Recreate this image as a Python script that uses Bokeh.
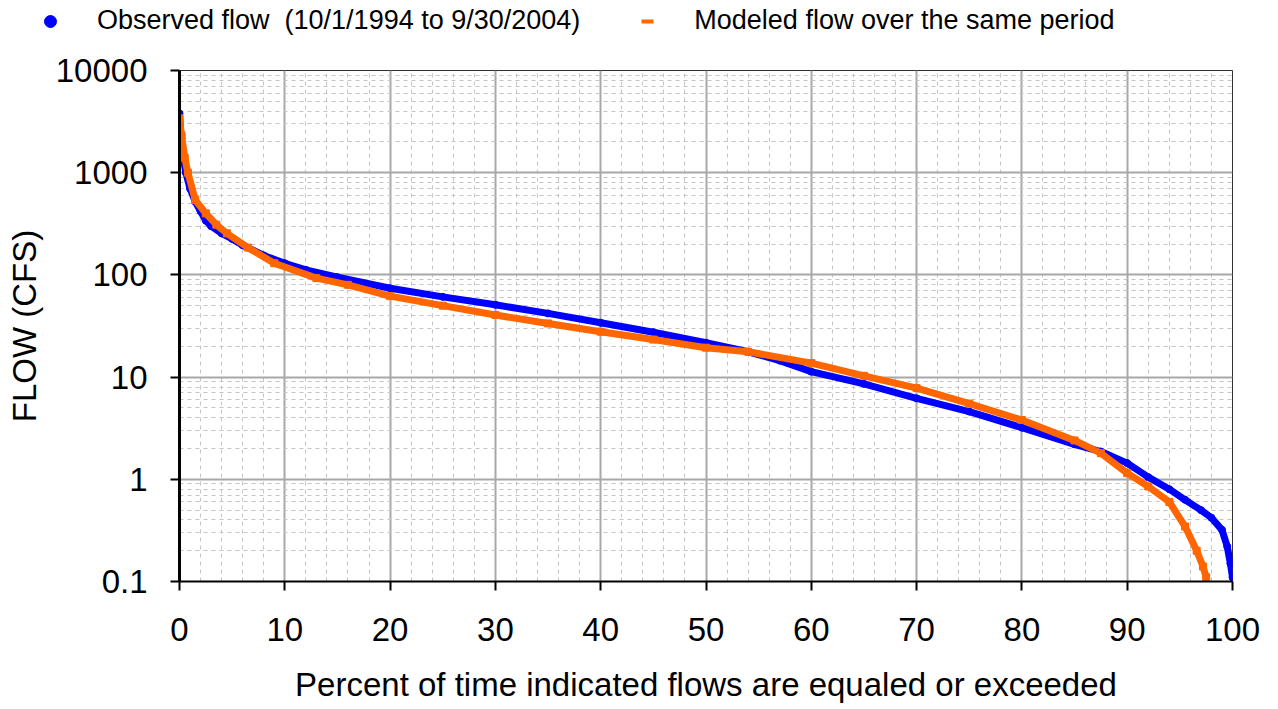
from bokeh.plotting import figure
from bokeh.layouts import column
from bokeh.models import Range1d, FixedTicker, NumeralTickFormatter, Legend, LegendItem, ColumnDataSource
from bokeh.embed import file_html
from bokeh.resources import INLINE

# ---- data ----
obs_pct = [0, 0.1, 0.3, 0.6, 1.0, 1.5, 2.0, 2.5, 3.0, 4.0, 5.0, 6.0, 8.0, 10, 12, 15, 20, 25, 30,
           35, 40, 45, 50, 54, 57, 60, 65, 70, 75, 80, 85, 87.5, 90, 92, 94, 95.5, 97, 98, 99,
           99.5, 99.8, 100]
obs_flow = [3800, 2500, 1500, 1000, 700, 520, 420, 340, 300, 255, 225, 195, 155, 130, 112, 95, 74,
            61, 51, 42, 34, 27.5, 21.7, 17.7, 14.5, 11.3, 8.6, 6.2, 4.6, 3.2, 2.2, 1.87, 1.44,
            1.05, 0.8, 0.63, 0.5, 0.42, 0.32, 0.22, 0.15, 0.11]

mod_pct = [0, 0.2, 0.5, 0.8, 1.5, 2.5, 3.5, 4.5, 6.5, 9, 13, 16, 20, 25, 30, 35, 40, 45, 50, 54,
           60, 65, 70, 75, 80, 85, 87.5, 90, 92, 94, 95.5, 96.6, 97.2, 97.5]
mod_flow = [3400, 2300, 1400, 1000, 540, 400, 310, 255, 185, 130, 93, 80, 62, 50, 40.5, 33.5, 27.8,
            23.3, 19.4, 17.7, 13.7, 10.3, 7.8, 5.5, 3.8, 2.4, 1.8, 1.15, 0.85, 0.6, 0.345, 0.2,
            0.14, 0.11]

x_ticks = [0, 10, 20, 30, 40, 50, 60, 70, 80, 90, 100]
x_minor = [0, 2, 4, 6, 8, 10, 12, 14, 16, 18, 20, 22, 24, 26, 28, 30, 32, 34, 36, 38, 40, 42, 44,
           46, 48, 50, 52, 54, 56, 58, 60, 62, 64, 66, 68, 70, 72, 74, 76, 78, 80, 82, 84, 86, 88,
           90, 92, 94, 96, 98, 100]
y_ticks = [0.1, 1, 10, 100, 1000, 10000]
y_minor = [m * d for d in [0.1, 1, 10, 100, 1000] for m in range(1, 10)] + [10000]

obs_label = "Observed flow  (10/1/1994 to 9/30/2004)"
mod_label = "Modeled flow over the same period"
x_title = "Percent of time indicated flows are equaled or exceeded"
y_title = "FLOW (CFS)"

FONT = "Liberation Sans"
BLUE = "#0000ff"
ORANGE = "#ff6600"

W = 1276
LEG_H = 40

# ---------- main chart ----------
p = figure(width=W, height=705 - LEG_H, x_range=Range1d(0, 100), y_range=Range1d(0.1, 10000),
           y_axis_type="log", output_backend="svg", toolbar_location=None, title=None,
           min_border_left=179, min_border_right=44, min_border_top=70 - LEG_H, min_border_bottom=124)
p.background_fill_color = "white"
p.border_fill_color = "white"
p.outline_line_color = "#303030"
p.outline_line_width = 1

p.xaxis.ticker = FixedTicker(ticks=x_ticks, minor_ticks=x_minor)
p.yaxis.ticker = FixedTicker(ticks=y_ticks, minor_ticks=y_minor)
p.yaxis.formatter = NumeralTickFormatter(format="0.[0]")
for ax in (p.xaxis, p.yaxis):
    ax.major_label_text_font = FONT
    ax.major_label_text_font_size = "33px"
    ax.major_label_text_color = "black"
    ax.axis_label_text_font = FONT
    ax.axis_label_text_font_size = "33px"
    ax.axis_label_text_font_style = "normal"
    ax.axis_label_text_color = "black"
    ax.axis_line_color = "black"
    ax.major_tick_line_color = "black"
    ax.major_tick_line_width = 2
    ax.major_tick_in = 0
    ax.major_tick_out = 9
    ax.minor_tick_line_color = None
p.yaxis.axis_line_width = 3
p.xaxis.axis_line_width = 2
p.xaxis.axis_label = x_title
p.yaxis.axis_label = y_title
p.xaxis.major_label_standoff = 27
p.xaxis.axis_label_standoff = 22
p.yaxis.major_label_standoff = 23
p.yaxis.axis_label_standoff = 10

for g in (p.xgrid, p.ygrid):
    g.grid_line_color = "#a8a8a8"
    g.grid_line_width = 2
    g.minor_grid_line_color = "#c4c4c4"
    g.minor_grid_line_width = 1
    g.minor_grid_line_dash = "4 4"

obs_src = ColumnDataSource(dict(x=obs_pct, y=obs_flow))
mod_src = ColumnDataSource(dict(x=mod_pct, y=mod_flow))

p.line("x", "y", source=obs_src, line_color=BLUE, line_width=7, line_join="round", line_cap="round")
p.scatter("x", "y", source=obs_src, marker="circle", size=7, fill_color=BLUE, line_color=BLUE)
p.line("x", "y", source=mod_src, line_color=ORANGE, line_width=7, line_join="round", line_cap="round")
p.scatter("x", "y", source=mod_src, marker="square", size=7, fill_color=ORANGE, line_color=ORANGE)

# ---------- legend strip ----------
lf = figure(width=W, height=LEG_H, x_range=Range1d(0, 1), y_range=Range1d(0, 1),
            x_axis_type=None, y_axis_type=None, output_backend="svg", toolbar_location=None,
            title=None, min_border=0, outline_line_color=None)
lf.background_fill_color = "white"
lf.border_fill_color = "white"
if "frame_align" in lf.properties():
    lf.frame_align = False
    p.frame_align = False
nan = float("nan")
leg_obs = lf.scatter(x=[nan], y=[nan], marker="circle", size=6, fill_color=BLUE, line_color=BLUE)
leg_mod = lf.scatter(x=[nan], y=[nan], marker="dash", size=9, line_color=ORANGE, line_width=4)

legend = Legend(items=[LegendItem(label=obs_label, renderers=[leg_obs]),
                       LegendItem(label=mod_label, renderers=[leg_mod])],
                orientation="horizontal", location=(30, 4),
                glyph_width=40, glyph_height=30, label_standoff=27, spacing=47,
                padding=0, margin=0,
                label_text_font=FONT, label_text_font_size="27px", label_text_color="black",
                background_fill_alpha=0, border_line_color=None)
lf.add_layout(legend, "center")

layout = column(lf, p, spacing=0)
open("out.html", "w").write(file_html(layout, INLINE))
